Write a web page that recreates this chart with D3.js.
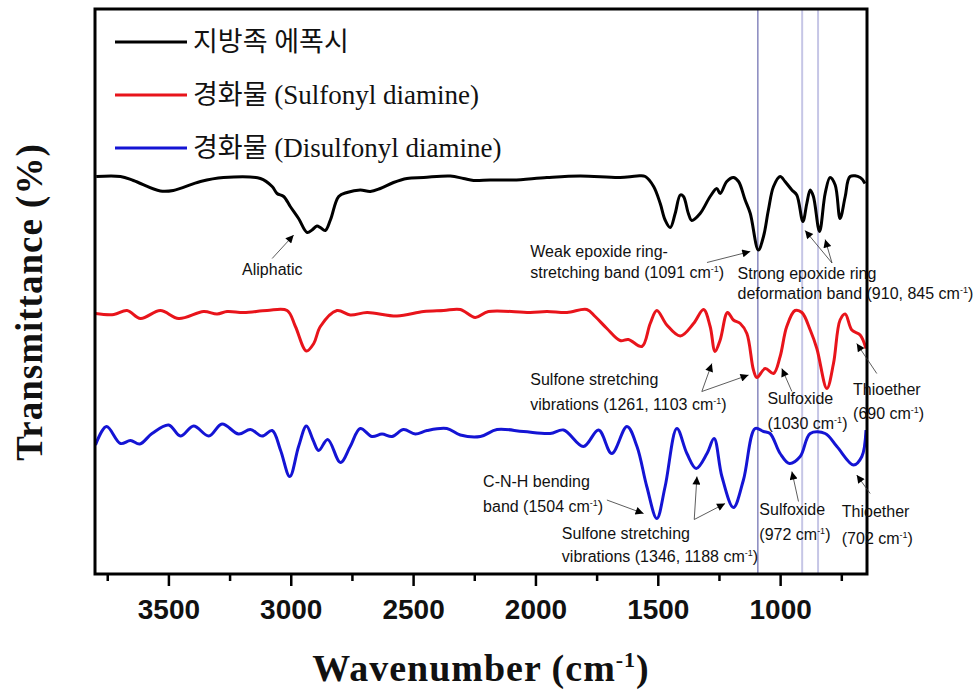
<!DOCTYPE html>
<html><head><meta charset="utf-8">
<script src="https://cdn.jsdelivr.net/npm/d3@7"></script>
<style>body{margin:0;background:#fff}</style>
</head><body><svg id="c" width="975" height="691"></svg>
<script>
// ---- data (wavenumber in cm-1, transmittance in arbitrary % with offsets) ----
const blackWn=[3795,3696,3643,3533,3480,3369,3275,3124,3076,3056,3029,3002,2968,2933,2913,2893,2879,2859,2838,2804,2770,2716,2675,2634,2580,2525,2457,2348,2294,2253,2185,2091,1953,1817,1654,1585,1551,1517,1490,1470,1449,1429,1408,1395,1375,1361,1327,1286,1259,1245,1218,1191,1170,1143,1122,1089,1068,1048,1027,1000,980,952,932,907,891,877,864,839,816,796,775,755,734,714,673,653];
const blackT=[79.5,79.5,78.7,76.6,76.7,78.5,79.3,79.1,77.5,76.1,75.5,73.5,71.1,68.3,68.8,69.6,69.3,68.7,70.8,75.5,76.3,76.8,76.5,77.1,78.3,79.1,79.3,79.6,79.1,78.7,78.8,78.8,79.3,79.6,79.3,79.6,79.5,77.5,74.1,70.8,69.3,72.1,75.8,75.5,72.1,70.7,72.1,75.5,77.1,76.1,78.5,79.3,78.5,74.8,72.1,64.8,67.5,72.8,77.5,79.5,78.5,76.8,75.8,70.5,74.1,76.8,75.5,68.5,76.1,79.3,77.8,71.1,75.5,79.5,79.3,78.1];
const redWn=[3798,3723,3669,3614,3533,3458,3356,3301,3260,3192,3097,3015,2981,2936,2906,2879,2811,2757,2688,2566,2457,2375,2307,2246,2192,2021,1953,1871,1790,1756,1708,1654,1620,1565,1531,1504,1463,1408,1354,1313,1286,1266,1245,1215,1191,1163,1136,1109,1095,1061,1027,1000,973,939,911,877,850,809,782,755,734,707,673,649];
const redT=[52.1,51.9,52.7,51.1,52.7,51.1,52.5,52.0,52.5,52.3,52.7,52.7,49.5,44.6,46.1,49.5,52.7,51.8,52.3,51.6,52.5,52.7,52.9,51.3,52.5,52.3,52.5,52.3,52.9,51.5,49.1,46.7,46.9,45.5,50.1,52.7,49.8,47.6,50.1,52.9,49.5,44.5,46.8,52.3,50.8,50.1,48.1,40.8,39.3,41.1,40.1,43.5,49.5,52.7,52.3,48.8,45.1,37.1,42.1,50.8,52.0,48.8,47.8,45.1];
const blueWn=[3798,3753,3696,3655,3617,3567,3499,3451,3397,3335,3281,3213,3165,3117,3076,3042,3004,2968,2936,2909,2886,2849,2797,2757,2716,2668,2627,2586,2539,2491,2443,2362,2307,2225,2157,2049,1940,1885,1804,1742,1688,1626,1585,1545,1504,1470,1422,1381,1343,1299,1270,1238,1191,1150,1102,1068,1041,1000,962,918,877,816,768,700,666,649];
const blueT=[25.8,29.5,26.1,26.7,26.0,28.1,29.8,27.6,29.6,27.6,30.0,28.0,28.9,27.6,28.7,24.8,19.5,25.5,29.6,26.8,24.7,26.9,22.3,25.5,29.1,27.5,28.0,27.5,28.9,28.0,28.7,29.1,27.8,27.5,28.9,28.5,28.1,28.8,25.5,28.8,24.1,29.5,25.5,17.5,11.1,17.5,29.1,24.1,21.1,24.1,27.1,19.5,13.3,18.8,29.1,28.5,28.1,24.1,22.1,23.5,28.1,28.1,25.5,21.8,23.5,28.8];

const seriesNames=["지방족 에폭시","경화물 (Sulfonyl diamine)","경화물 (Disulfonyl diamine)"];
const seriesColors=["#000000","#e8141b","#1414d4"];
const majorTicks=[3500,3000,2500,2000,1500,1000];
const minorTicks=[3750,3250,2750,2250,1750,1250,750];
const refLines=[1091,910,845];
const refColors=["#6a6aae","#c6c6e6","#c6c6e6"];

// annotations: text lines with baseline positions in data units, arrows [wn0,t0,wn1,t1]
const annotations=[
 {wn:3199, lines:[["Aliphatic",59.8]], arrows:[[3076,63.1,2988,67.8]]},
 {wn:2021, lines:[["Weak epoxide ring-",63.5],["stretching band (1091 cm-1)",59.3]], arrows:[[1299,62.3,1122,64.5]]},
 {wn:1174, lines:[["Strong epoxide ring",59.1],["deformation band (910, 845 cm-1)",55.1]], arrows:[[788,62.2,898,68.7],[788,62.2,816,66.9]]},
 {wn:2021, lines:[["Sulfone stretching",37.8],["vibrations (1261, 1103 cm-1)",32.8]], arrows:[[1320,36.5,1279,42.1],[1320,36.5,1129,39.8]]},
 {wn:1052, lines:[["Sulfoxide",34.1],["(1030 cm-1)",29.1]], arrows:[[952,36.5,993,41.1]]},
 {wn:702, lines:[["Thioether",35.9],["(690 cm-1)",31.1]], arrows:[[605,40.1,687,46.1]]},
 {wn:2214, lines:[["C-N-H bending",17.5],["band (1504 cm-1)",12.5]], arrows:[[1708,14.8,1558,12.1]]},
 {wn:1892, lines:[["Sulfone stretching",7.1],["vibrations (1346, 1188 cm-1)",2.5]], arrows:[[1351,10.9,1340,19.5],[1351,10.9,1225,14.1]]},
 {wn:1085, lines:[["Sulfoxide",11.9],["(972 cm-1)",6.8]], arrows:[[925,14.5,952,20.5]]},
 {wn:748, lines:[["Thioether",11.5],["(702 cm-1)",6.1]], arrows:[[632,16.1,687,19.8]]}
];

// ---- layout ----
const L=95,R=867,T=9,B=574;
const svg=d3.select("#c");
const x=d3.scaleLinear().domain([3800,645]).range([L,R]);
const y=d3.scaleLinear().domain([0,113]).range([B,T]);

svg.append("defs").append("marker").attr("id","ah").attr("viewBox","0 0 10 10")
 .attr("refX",10).attr("refY",5).attr("markerWidth",12).attr("markerHeight",8)
 .attr("markerUnits","userSpaceOnUse").attr("orient","auto")
 .append("path").attr("d","M0,0L10,5L0,10Z").attr("fill","#000");

// reference lines
svg.selectAll("line.ref").data(refLines).join("line").attr("class","ref")
 .attr("x1",d=>x(d)).attr("x2",d=>x(d)).attr("y1",T).attr("y2",B)
 .attr("stroke",(d,i)=>refColors[i]).attr("stroke-width",(d,i)=>i===0?1.2:2);

// curves
const series=[[blackWn,blackT],[redWn,redT],[blueWn,blueT]];
const line=d3.line().x(d=>x(d[0])).y(d=>y(d[1])).curve(d3.curveCatmullRom.alpha(0.5));
series.forEach((s,i)=>{
  const pts=s[0].map((w,j)=>[w,s[1][j]]);
  svg.append("path").datum(pts).attr("d",line).attr("fill","none")
    .attr("stroke",seriesColors[i]).attr("stroke-width",3).attr("stroke-linejoin","round");
});

// frame
svg.append("rect").attr("x",L).attr("y",T).attr("width",R-L).attr("height",B-T)
 .attr("fill","none").attr("stroke","#000").attr("stroke-width",3);

// axes
const gMinor=svg.append("g").attr("transform",`translate(0,${B})`)
 .call(d3.axisBottom(x).tickValues(minorTicks).tickSize(7).tickFormat(""));
const gMajor=svg.append("g").attr("transform",`translate(0,${B})`)
 .call(d3.axisBottom(x).tickValues(majorTicks).tickSize(12).tickPadding(13).tickFormat(d3.format("d")));
[gMinor,gMajor].forEach(g=>{g.select(".domain").remove();
 g.selectAll("line").attr("stroke","#000").attr("stroke-width",2.5);});
gMajor.selectAll("text").attr("font-family","'Liberation Sans',Arial,sans-serif")
 .attr("font-size",28).attr("font-weight","bold").attr("fill","#111");

// axis titles
const xt=svg.append("text").attr("x",(L+R)/2).attr("y",681).attr("text-anchor","middle")
 .attr("font-family","'Liberation Serif','Times New Roman',serif").attr("font-weight","bold")
 .attr("font-size",38).attr("letter-spacing",1).attr("fill","#111");
xt.append("tspan").text("Wavenumber (cm");
xt.append("tspan").attr("dy",-14).attr("font-size",22).text("-1");
xt.append("tspan").attr("dy",14).text(")");
svg.append("text").attr("transform","translate(42,302) rotate(-90)").attr("text-anchor","middle")
 .attr("font-family","'Liberation Serif','Times New Roman',serif").attr("font-weight","bold")
 .attr("font-size",37).attr("letter-spacing",1).attr("fill","#111").text("Transmittance (%)");

// legend
const legY=[42,95,148];
seriesNames.forEach((n,i)=>{
  svg.append("line").attr("x1",115).attr("x2",187).attr("y1",legY[i]).attr("y2",legY[i])
    .attr("stroke",seriesColors[i]).attr("stroke-width",3);
  svg.append("text").attr("x",193).attr("y",legY[i]+9)
    .attr("font-family","'Liberation Serif','Noto Sans CJK KR',serif").attr("font-size",27)
    .attr("fill","#111").text(n);
});

// annotations
const ag=svg.append("g").attr("font-family","'Liberation Sans',Arial,sans-serif").attr("font-size",16).attr("fill","#111");
annotations.forEach(a=>{
  a.lines.forEach(([txt,t])=>{
    const te=ag.append("text").attr("x",x(a.wn)).attr("y",y(t));
    const k=txt.indexOf("cm-1");
    if(k<0){te.text(txt);}
    else{
      te.append("tspan").text(txt.slice(0,k+2));
      te.append("tspan").attr("dy",-6).attr("font-size",9).text("-1");
      te.append("tspan").attr("dy",6).text(txt.slice(k+4));
    }
  });
  a.arrows.forEach(r=>{
    ag.append("line").attr("x1",x(r[0])).attr("y1",y(r[1])).attr("x2",x(r[2])).attr("y2",y(r[3]))
      .attr("stroke","#333").attr("stroke-width",0.8).attr("marker-end","url(#ah)");
  });
});
</script></body></html>
